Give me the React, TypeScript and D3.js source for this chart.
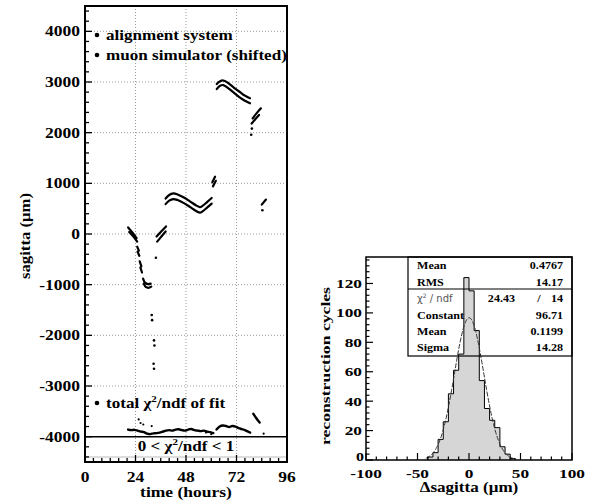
import * as d3 from 'd3';

// left panel: sagitta vs time
const timeTicks = [0, 24, 48, 72, 96];
const sagittaTicks = [4000, 3000, 2000, 1000, 0, -1000, -2000, -3000, -4000];

// alignment system (upper trace) as [hours, um]
const alignSegments: [number, number][][] = [
  [[20.5, 130], [22.5, 30], [24.5, -80]],
  [[24.8, -250], [25.6, -330]],
  [[26.0, -540], [26.8, -640]],
  [[27.6, -880], [28.5, -960], [30.0, -990], [31.2, -980]],
  [[34.0, -50], [36.2, 50], [38.5, 150]],
  [[38.3, 700], [40, 770], [42, 800], [44, 780], [47, 720], [50, 640], [53, 560], [54.6, 530], [56, 560], [58, 630], [60.2, 710]],
  [[60.5, 1020], [61.8, 1130]],
  [[62.6, 2960], [64, 3010], [65.7, 3030], [68, 2980], [71, 2880], [74, 2790], [76, 2730], [78.4, 2680]],
  [[79.7, 2280], [81.5, 2380], [83.6, 2480]],
  [[84.0, 580], [86.0, 680]],
];

// muon simulator (shifted), lower trace
const simSegments: [number, number][][] = [
  [[21, 40], [23, -50], [24.8, -150]],
  [[25.0, -350], [25.8, -430]],
  [[26.3, -660], [27.1, -760]],
  [[27.9, -980], [29, -1050], [30.5, -1060], [31.5, -1040]],
  [[34.3, -150], [36.3, -50], [38.3, 50]],
  [[38.3, 590], [40, 660], [42, 690], [44, 670], [47, 610], [50, 530], [53, 450], [54.6, 420], [56, 450], [58, 520], [60.2, 600]],
  [[60.8, 940], [62.2, 1050]],
  [[62.6, 2860], [64, 2920], [65.7, 2940], [68, 2880], [71, 2780], [74, 2680], [76, 2630], [78.4, 2580]],
  [[79.2, 2180], [81, 2270], [82.7, 2350]],
];

const sagittaDots: [number, number][] = [
  [31.7, -1600], [31.9, -1700], [32.8, -2100], [33.0, -2200],
  [32.6, -2560], [32.8, -2660], [33.7, -470], [79.3, 2080], [79.0, 1960], [84.3, 470],
];

// total chi2/ndf of fit, drawn on the sagitta scale
const chi2Trace: [number, number][] = [
  [20.5, -3860], [22, -3870], [23.5, -3865], [25, -3880], [26.5, -3900], [28, -3910], [29.5, -3940],
  [31, -3950], [32.5, -3935], [34, -3930], [35.5, -3920], [37, -3900], [38.5, -3880], [40, -3870],
  [41.5, -3880], [43, -3860], [44.5, -3855], [46, -3870], [47.5, -3880], [49, -3860], [50.5, -3850],
  [52, -3870], [53.5, -3880], [55, -3890], [56.5, -3880], [58, -3900], [59.5, -3910], [61, -3930],
];
const chi2Trace2: [number, number][] = [
  [62.5, -3860], [64, -3800], [65.5, -3780], [67, -3790], [68.5, -3810], [70, -3790], [71.5, -3800],
  [73, -3830], [74.5, -3850], [76, -3870], [77.5, -3900], [78.5, -3920],
];
const chi2Tail: [number, number][] = [[80, -3550], [81.5, -3640], [83, -3720]];
const chi2Dots: [number, number][] = [
  [25.5, -3660], [26.4, -3730], [27.7, -3760], [31.7, -3790], [57.5, -3920], [60, -3950], [84.9, -3940],
];

// right panel: delta sagitta histogram
const binLow = [-40, -35, -30, -25, -20, -15, -10, -5, 0, 5, 10, 15, 20, 25, 30, 35, 40];
const binCounts = [2, 5, 14, 26, 45, 61, 72, 124, 115, 88, 54, 35, 27, 22, 9, 4, 1];
const binWidth = 5;
const countTicks = [0, 20, 40, 60, 80, 100, 120];
const deltaTicks = [-100, -50, 0, 50, 100];
const statLabels = ['Mean', 'RMS'];
const statValues = ['0.4767', '14.17'];
const fitLabels = ['Constant', 'Mean', 'Sigma'];
const fitValues = ['96.71', '0.1199', '14.28'];
const fitChi2 = '24.43';
const fitNdf = '14';
const fitConstant = 96.71;
const fitMean = 0.1199;
const fitSigma = 14.28;

const L = { left: 85, right: 287, top: 6, bottom: 462 };
const R = { left: 366, right: 572, top: 257, bottom: 460 };

const xL = d3.scaleLinear().domain([0, 96]).range([L.left, L.right]);
const yL = d3.scaleLinear().domain([-4500, 4500]).range([L.bottom, L.top]);
const xR = d3.scaleLinear().domain([-100, 100]).range([R.left, R.right]);
const yR = d3.scaleLinear().domain([0, 138]).range([R.bottom, R.top]);

const serif = "'Liberation Serif', 'Times New Roman', serif";

function T({ x, y, s = 1.25, size = 14, anchor = 'start', children, ...rest }: any) {
  return (
    <text transform={`translate(${x},${y}) scale(${s},1)`} fontSize={size} textAnchor={anchor}
      fontFamily={serif} fontWeight="bold" {...rest}>
      {children}
    </text>
  );
}

export default function App() {
  const lineL = d3.line<[number, number]>().x(d => xL(d[0])).y(d => yL(d[1])).curve(d3.curveCatmullRom);
  const gauss = d3.range(-42, 44.01, 0.5).map(v => [v, fitConstant * Math.exp(-0.5 * ((v - fitMean) / fitSigma) ** 2)] as [number, number]);
  const gaussLine = d3.line<[number, number]>().x(d => xR(d[0])).y(d => yR(d[1]));

  let histPath = `M${xR(binLow[0])},${yR(0)}`;
  binLow.forEach((b, i) => {
    histPath += `V${yR(binCounts[i])}H${xR(b + binWidth)}`;
  });
  histPath += `V${yR(0)}`;

  const boxL = 408, boxTop = R.top, boxDiv = 289, boxBot = 356;
  const rowY = [268.5, 285.5, 301.5, 318.5, 334.5, 350.5];

  return (
    <svg width={593} height={504} style={{ position: 'absolute', left: 0, top: 0, background: '#fff' }}>
      {/* ---------- left panel ---------- */}
      {timeTicks.slice(1, -1).map(t => (
        <line key={'vg' + t} x1={xL(t)} x2={xL(t)} y1={L.top} y2={L.bottom} stroke="#999" strokeWidth={1} strokeDasharray="1,2" />
      ))}
      {sagittaTicks.filter(v => v > -4000).map(v => (
        <line key={'hg' + v} x1={L.left} x2={L.right} y1={yL(v)} y2={yL(v)} stroke="#999" strokeWidth={1} strokeDasharray="1,2" />
      ))}
      <line x1={L.left} x2={L.right} y1={yL(-4000)} y2={yL(-4000)} stroke="#000" strokeWidth={1.5} />
      <line x1={L.left} x2={L.right} y1={L.bottom - 5} y2={L.bottom - 5} stroke="#bbb" strokeWidth={1} />

      {d3.range(-4400, 4401, 200).map(v => (
        <line key={'yt' + v} x1={L.left} x2={L.left + (v % 1000 === 0 ? 7 : 4)} y1={yL(v)} y2={yL(v)} stroke="#000" strokeWidth={1.3} />
      ))}
      {d3.range(0, 97, 4).map(t => (
        <line key={'xt' + t} x1={xL(t)} x2={xL(t)} y1={L.bottom} y2={L.bottom - (t % 24 === 0 ? 7 : 4)} stroke="#000" strokeWidth={1.3} />
      ))}

      {alignSegments.map((s, i) => (
        <path key={'a' + i} d={lineL(s) || ''} fill="none" stroke="#000" strokeWidth={2.2} strokeLinecap="round" />
      ))}
      {simSegments.map((s, i) => (
        <path key={'m' + i} d={lineL(s) || ''} fill="none" stroke="#000" strokeWidth={2.2} strokeLinecap="round" />
      ))}
      {sagittaDots.map((d, i) => (
        <circle key={'d' + i} cx={xL(d[0])} cy={yL(d[1])} r={1.3} fill="#000" />
      ))}
      {[chi2Trace, chi2Trace2, chi2Tail].map((s, i) => (
        <path key={'c' + i} d={lineL(s) || ''} fill="none" stroke="#000" strokeWidth={2.4} strokeLinecap="round" />
      ))}
      {chi2Dots.map((d, i) => (
        <circle key={'cd' + i} cx={xL(d[0])} cy={yL(d[1])} r={1.1} fill="#000" />
      ))}

      <rect x={L.left} y={L.top} width={L.right - L.left} height={L.bottom - L.top} fill="none" stroke="#000" strokeWidth={2} />

      {sagittaTicks.map(v => (
        <T key={'yl' + v} x={80} y={yL(v) + 5} anchor="end">{v}</T>
      ))}
      {timeTicks.map(t => (
        <T key={'xl' + t} x={xL(t)} y={482} anchor="middle">{t}</T>
      ))}
      <T x={xL(48)} y={497} anchor="middle">time (hours)</T>
      <text transform="translate(30,236) rotate(-90)" fontSize={14} fontFamily={serif} fontWeight="bold"
        textAnchor="middle" textLength={86} lengthAdjust="spacingAndGlyphs">sagitta (μm)</text>

      <circle cx={97} cy={35} r={2.3} fill="#000" />
      <T x={106} y={39.5} s={1.22}>alignment system</T>
      <circle cx={97} cy={55} r={2.3} fill="#000" />
      <T x={106} y={59.5} s={1.22}>muon simulator (shifted)</T>
      <circle cx={97} cy={403} r={2.3} fill="#000" />
      <T x={106} y={408} s={1.22}>
        total χ<tspan dy={-6} fontSize={9}>2</tspan><tspan dy={6}>/ndf of fit</tspan>
      </T>
      <T x={186} y={451} s={1.22} anchor="middle">
        0 &lt; χ<tspan dy={-6} fontSize={9}>2</tspan><tspan dy={6}>/ndf &lt; 1</tspan>
      </T>

      {/* ---------- right panel ---------- */}
      <path d={histPath} fill="#d6d6d6" stroke="none" />
      <path d={histPath} fill="none" stroke="#000" strokeWidth={1} />
      <path d={gaussLine(gauss) || ''} fill="none" stroke="#333" strokeWidth={1} strokeDasharray="5,1.5" />

      {d3.range(0, 137, 4).map(v => (
        <line key={'ryt' + v} x1={R.left} x2={R.left + (v % 20 === 0 ? 7 : 3.5)} y1={yR(v)} y2={yR(v)} stroke="#000" strokeWidth={1.2} />
      ))}
      {d3.range(-100, 101, 10).map(v => (
        <line key={'rxt' + v} x1={xR(v)} x2={xR(v)} y1={R.bottom} y2={R.bottom - (v % 50 === 0 ? 7 : 3.5)} stroke="#000" strokeWidth={1.2} />
      ))}
      <rect x={R.left} y={R.top} width={R.right - R.left} height={R.bottom - R.top} fill="none" stroke="#000" strokeWidth={1.5} />

      <rect x={boxL} y={boxTop} width={R.right - boxL} height={boxBot - boxTop} fill="none" stroke="#000" strokeWidth={1.2} />
      <line x1={boxL} x2={R.right} y1={boxDiv} y2={boxDiv} stroke="#000" strokeWidth={1.2} />
      {statLabels.map((l, i) => (
        <T key={'sl' + i} x={417} y={rowY[i]} s={1.15} size={10.5}>{l}</T>
      ))}
      {statValues.map((v, i) => (
        <T key={'sv' + i} x={563} y={rowY[i]} s={1.15} size={10.5} anchor="end">{v}</T>
      ))}
      <text x={417} y={rowY[2]} fontSize={10} fontFamily="'DejaVu Sans', sans-serif" fill="#555">
        χ<tspan dy={-4} fontSize={6}>2</tspan><tspan dy={4}> / ndf</tspan>
      </text>
      <T x={515} y={rowY[2]} s={1.15} size={10.5} anchor="end">{fitChi2}</T>
      <T x={539} y={rowY[2]} s={1.15} size={10.5} anchor="middle">/</T>
      <T x={563} y={rowY[2]} s={1.15} size={10.5} anchor="end">{fitNdf}</T>
      {fitLabels.map((l, i) => (
        <T key={'fl' + i} x={417} y={rowY[i + 3]} s={1.15} size={10.5}>{l}</T>
      ))}
      {fitValues.map((v, i) => (
        <T key={'fv' + i} x={563} y={rowY[i + 3]} s={1.15} size={10.5} anchor="end">{v}</T>
      ))}

      {countTicks.map(v => (
        <T key={'ryl' + v} x={v === 0 ? 364 : 362} y={v === 0 ? 461 : yR(v) + 4.5} s={1.33} size={v === 0 ? 12 : 13} anchor="end">{v}</T>
      ))}
      {deltaTicks.map(v => (
        <T key={'rxl' + v} x={xR(v)} y={478} s={1.33} size={13} anchor="middle">{v}</T>
      ))}
      <T x={xR(0)} y={492} s={1.22} size={14} anchor="middle">Δsagitta (μm)</T>
      <text transform="translate(330,366) rotate(-90)" fontSize={13} fontFamily={serif} fontWeight="bold"
        textAnchor="middle" textLength={158} lengthAdjust="spacingAndGlyphs">reconstruction cycles</text>
    </svg>
  );
}
